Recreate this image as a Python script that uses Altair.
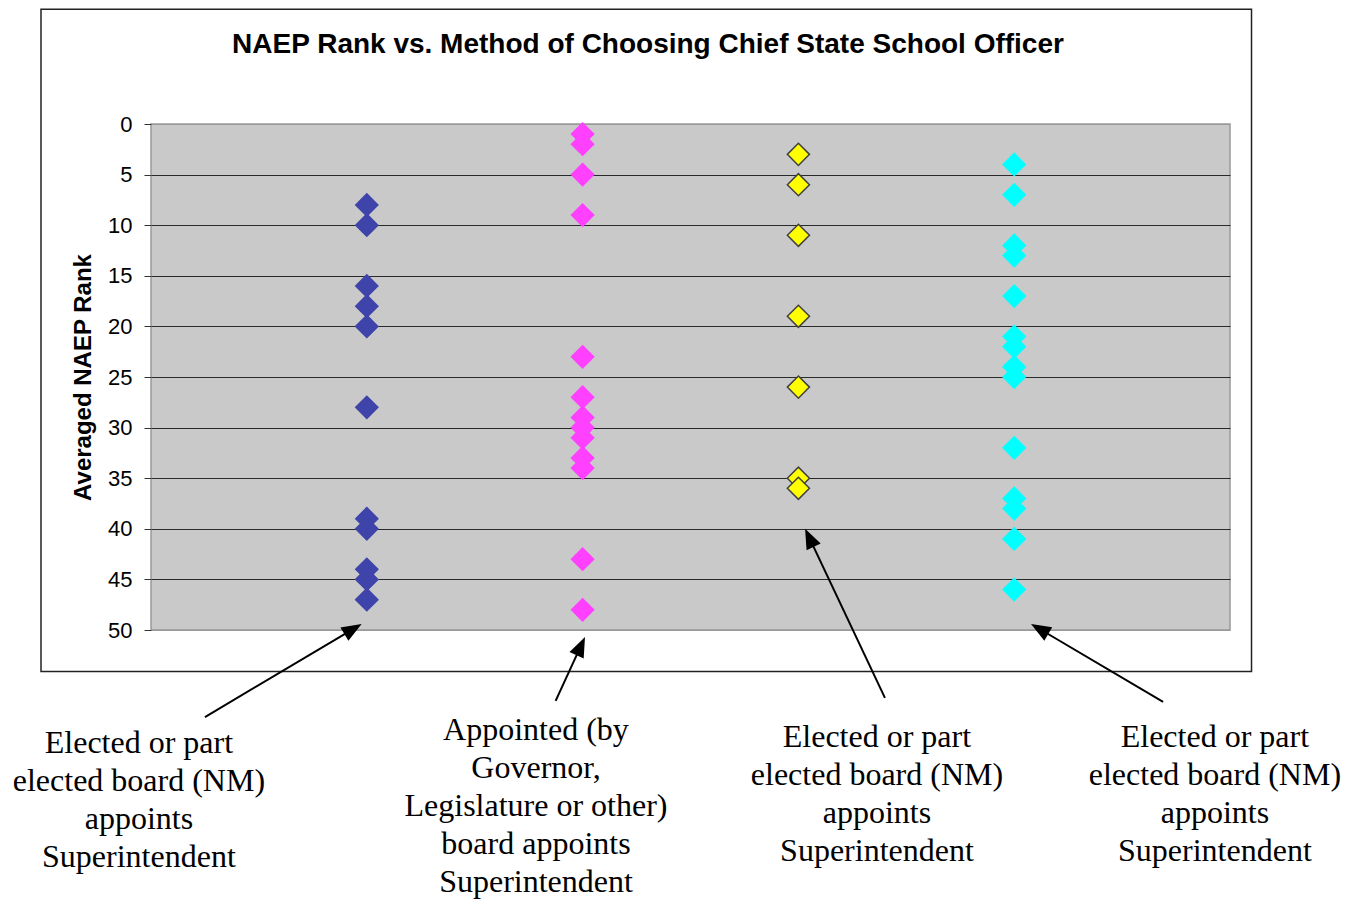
import math
import altair as alt
import pandas as pd

# ---------------- data ----------------
series_keys = ["s1", "s2", "s3", "s4"]
blue_ranks = [8, 10, 16, 18, 20, 28, 39, 40, 44, 45, 47]
pink_ranks = [1, 2, 5, 9, 23, 27, 29, 30, 31, 33, 34, 43, 48]
yellow_ranks = [3, 6, 11, 19, 26, 35, 36]
cyan_ranks = [4, 7, 12, 13, 17, 21, 22, 24, 25, 32, 37, 38, 41, 46]

label_texts = [
    "Elected or part\nelected board (NM)\nappoints\nSuperintendent",
    "Appointed (by\nGovernor,\nLegislature or other)\nboard appoints\nSuperintendent",
    "Elected or part\nelected board (NM)\nappoints\nSuperintendent",
    "Elected or part\nelected board (NM)\nappoints\nSuperintendent",
]
title_text = "NAEP Rank vs. Method of Choosing Chief State School Officer"
y_ticks = list(range(0, 51, 5))

# ---------------- styles / layout ----------------
fill_colors = ["#3F44AA", "#FF40FF", "#FFFF00", "#00FFFF"]
stroke_colors = ["#3F44AA", "#FF40FF", "#404040", "#00FFFF"]
W, H = 1079, 506
PX_X = W / 5.0
PX_Y = H / 50.0

# annotation anchors (data units of the chart's scales)
label_x = [-0.056, 1.784, 3.364, 4.930]
label_y = [59.72, 58.42, 59.12, 59.12]
arrow_tail_x = [0.250, 1.875, 3.401, 4.690]
arrow_tail_y = [58.6, 57.0, 56.7, 57.1]
arrow_tip_x = [0.976, 2.011, 3.031, 4.078]
arrow_tip_y = [49.4, 50.7, 40.0, 49.4]
HEAD_LEN = 10.0  # half-length of the arrow head in px

rows = []
for i, (key, ranks) in enumerate(
    zip(series_keys, [blue_ranks, pink_ranks, yellow_ranks, cyan_ranks]), start=1
):
    for r in ranks:
        rows.append({"series": key, "pos": i, "rank": r})
pts = pd.DataFrame(rows)

arr_rows = []
for tx, ty, hx, hy in zip(arrow_tail_x, arrow_tail_y, arrow_tip_x, arrow_tip_y):
    dx = (hx - tx) * PX_X
    dy = (hy - ty) * PX_Y
    L = math.hypot(dx, dy)
    ux, uy = dx / L, dy / L
    ang = math.degrees(math.atan2(dx, -dy)) % 360
    cx = hx - HEAD_LEN * ux / PX_X
    cy = hy - HEAD_LEN * uy / PX_Y
    arr_rows.append({"tx": tx, "ty": ty, "cx": cx, "cy": cy, "angle": ang})
arrows = pd.DataFrame(arr_rows)

labels = pd.DataFrame({"x": label_x, "y": label_y, "text": label_texts})
title_df = pd.DataFrame({"x": [2.303], "y": [-7.0], "text": [title_text]})
frame_df = pd.DataFrame({"x": [-0.5097], "x2": [5.0997], "y": [-11.33], "y2": [54.1]})

x_scale = alt.Scale(domain=[0, 5], nice=False, zero=False)
y_scale = alt.Scale(domain=[0, 50], reverse=True, nice=False, zero=False)

y_axis = alt.Axis(
    values=y_ticks,
    title="Averaged NAEP Rank",
    titleFont="Liberation Sans",
    titleFontSize=24,
    titleFontWeight="bold",
    titleColor="black",
    titlePadding=12,
    labelFont="Liberation Sans",
    labelFontSize=22,
    labelColor="black",
    labelPadding=12,
    labelFlush=False,
    labelOverlap=False,
    tickSize=7,
    tickColor="#333333",
    tickWidth=1,
    domain=False,
    grid=True,
    gridColor={
        "condition": {"test": "datum.value === 0 || datum.value === 50", "value": "#999999"},
        "value": "#2a2a2a",
    },
    gridWidth=1.2,
)

frame = alt.Chart(frame_df).mark_rect(fillOpacity=0, stroke="#222222", strokeWidth=1.5).encode(
    x=alt.X("x:Q", scale=x_scale, axis=None),
    x2="x2:Q",
    y=alt.Y("y:Q", scale=y_scale, axis=y_axis),
    y2="y2:Q",
)

points = alt.Chart(pts).mark_point(
    shape="diamond", size=490, filled=True, strokeWidth=1.5, opacity=1
).encode(
    x=alt.X("pos:Q", scale=x_scale, axis=None),
    y=alt.Y("rank:Q", scale=y_scale, axis=y_axis),
    fill=alt.Fill("series:N", scale=alt.Scale(domain=series_keys, range=fill_colors), legend=None),
    stroke=alt.Stroke("series:N", scale=alt.Scale(domain=series_keys, range=stroke_colors), legend=None),
)

arrow_lines = alt.Chart(arrows).mark_rule(color="black", strokeWidth=2).encode(
    x=alt.X("tx:Q", scale=x_scale, axis=None),
    y=alt.Y("ty:Q", scale=y_scale, axis=y_axis),
    x2="cx:Q",
    y2="cy:Q",
)

arrow_heads = alt.Chart(arrows).mark_point(
    shape="M0,-1L0.78,1L-0.78,1Z", size=400, filled=True, color="black", opacity=1, strokeWidth=0
).encode(
    x=alt.X("cx:Q", scale=x_scale, axis=None),
    y=alt.Y("cy:Q", scale=y_scale, axis=y_axis),
    angle=alt.Angle("angle:Q", scale=None),
)

label_text = alt.Chart(labels).mark_text(
    font="Liberation Serif", fontSize=32, lineHeight=38, align="center",
    baseline="top", lineBreak="\n", color="black"
).encode(
    x=alt.X("x:Q", scale=x_scale, axis=None),
    y=alt.Y("y:Q", scale=y_scale, axis=y_axis),
    text="text:N",
)

title_mark = alt.Chart(title_df).mark_text(
    font="Liberation Sans", fontSize=28, fontWeight="bold", align="center",
    baseline="alphabetic", color="black"
).encode(
    x=alt.X("x:Q", scale=x_scale, axis=None),
    y=alt.Y("y:Q", scale=y_scale, axis=y_axis),
    text="text:N",
)

chart = alt.layer(
    frame, points, arrow_lines, arrow_heads, label_text, title_mark
).properties(
    width=W,
    height=H,
    autosize=alt.AutoSizeParams(type="none"),
    padding={"left": 143, "top": 116, "right": 112, "bottom": 271},
    background="white",
).configure_view(
    fill="#C9C9C9", stroke="#999999", strokeWidth=1.5
)

chart.save("out.html", embed_options={"renderer": "svg", "actions": False})
